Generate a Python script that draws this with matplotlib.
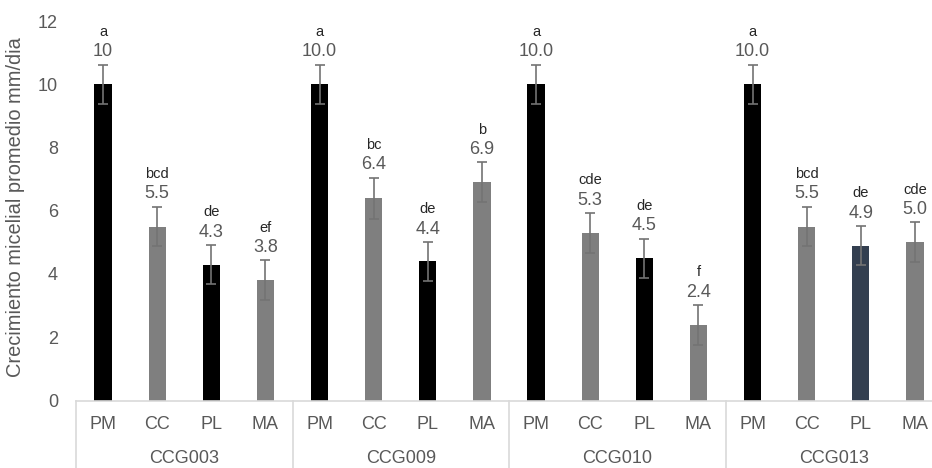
import matplotlib
matplotlib.use('Agg')
import matplotlib.pyplot as plt
import numpy as np

# datos
grupos = ['CCG003', 'CCG009', 'CCG010', 'CCG013']
tratamientos = ['PM', 'CC', 'PL', 'MA']
valores = [10.0, 5.5, 4.3, 3.8,
           10.0, 6.4, 4.4, 6.9,
           10.0, 5.3, 4.5, 2.4,
           10.0, 5.5, 4.9, 5.0]
errores = [0.62, 0.63, 0.62, 0.63,
           0.62, 0.65, 0.62, 0.63,
           0.62, 0.63, 0.62, 0.63,
           0.62, 0.63, 0.62, 0.63]
etiquetas_valor = ['10', '5.5', '4.3', '3.8',
                   '10.0', '6.4', '4.4', '6.9',
                   '10.0', '5.3', '4.5', '2.4',
                   '10.0', '5.5', '4.9', '5.0']
letras = ['a', 'bcd', 'de', 'ef',
          'a', 'bc', 'de', 'b',
          'a', 'cde', 'de', 'f',
          'a', 'bcd', 'de', 'cde']
colores = ['#000000', '#7f7f7f', '#000000', '#7f7f7f',
           '#000000', '#7f7f7f', '#000000', '#7f7f7f',
           '#000000', '#7f7f7f', '#000000', '#7f7f7f',
           '#000000', '#7f7f7f', '#333f50', '#7f7f7f']

plt.rcParams['font.family'] = ['Liberation Sans', 'DejaVu Sans']
GRIS_TXT = '#595959'
GRIS_LINEA = '#d9d9d9'

fig = plt.figure(figsize=(9.32, 4.68), dpi=100)
# el area de trazado se sale un poco por la derecha (como en la imagen original)
ax = fig.add_axes([76 / 932, 67.5 / 468, 866 / 932, 379.5 / 468])

x = np.arange(len(valores))
ax.bar(x, valores, width=0.32, color=colores, zorder=2)
ax.errorbar(x, valores, yerr=errores, fmt='none', ecolor='#737373',
            elinewidth=1.2, capsize=3.5, capthick=1.2, zorder=3)

for xi, v, e, lab, let in zip(x, valores, errores, etiquetas_valor, letras):
    ax.annotate(lab, (xi, v + e), xytext=(0, 3), textcoords='offset points',
                ha='center', va='bottom', fontsize=13, color=GRIS_TXT)
    ax.annotate(let, (xi, v + e), xytext=(0, 18.5), textcoords='offset points',
                ha='center', va='bottom', fontsize=10.5, color='#262626')

ax.set_xlim(-0.5, len(valores) - 0.5)
ax.set_ylim(0, 12)
ax.set_yticks(range(0, 13, 2))
ax.tick_params(axis='y', length=0, pad=13, labelsize=13, labelcolor=GRIS_TXT)
ax.set_xticks([])
for s in ['top', 'right', 'left']:
    ax.spines[s].set_visible(False)
ax.spines['bottom'].set_color(GRIS_LINEA)
ax.spines['bottom'].set_linewidth(1.2)

ax.set_ylabel('Crecimiento micelial promedio mm/dia', fontsize=14.4, color=GRIS_TXT)
ax.yaxis.set_label_coords(-0.059, 0.509)

# eje de categorias en dos niveles (estilo Excel)
trans = ax.get_xaxis_transform()
for i, t in enumerate(tratamientos * len(grupos)):
    ax.text(i, -0.062, t, transform=trans, ha='center', va='center',
            fontsize=13, color=GRIS_TXT)
for g, nombre in enumerate(grupos):
    ax.text(g * 4 + 1.5, -0.153, nombre, transform=trans, ha='center', va='center',
            fontsize=13, color=GRIS_TXT)
for g in range(len(grupos) + 1):
    ax.plot([g * 4 - 0.5, g * 4 - 0.5], [0, -0.2], transform=trans,
            color=GRIS_LINEA, lw=1.2, clip_on=False)

fig.savefig('out.png', dpi=100)
